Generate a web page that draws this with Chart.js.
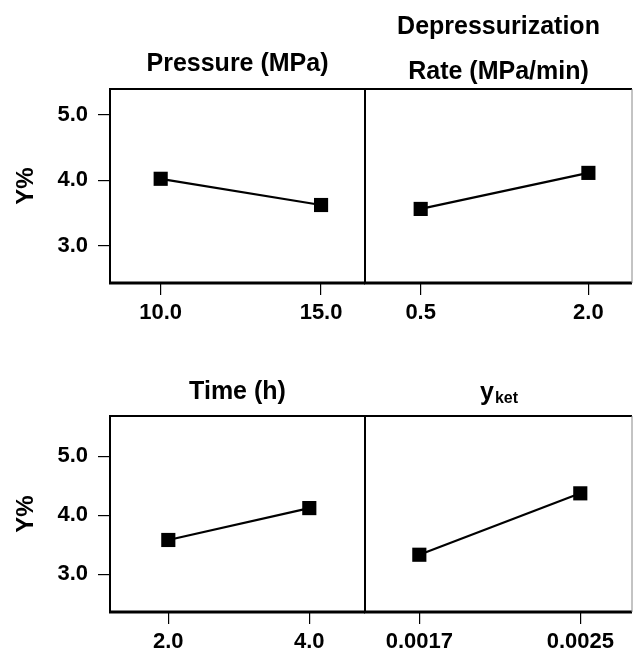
<!DOCTYPE html>
<html>
<head>
<meta charset="utf-8">
<script src="https://cdn.jsdelivr.net/npm/chart.js@4"></script>
<style>
  body { margin: 0; background: #fff; }
  #wrap { position: relative; width: 633px; height: 652px; overflow: hidden; }
  canvas { position: absolute; }
</style>
</head>
<body>
<div id="wrap">
  <canvas id="c-pressure" width="375" height="345" style="left:0;top:0"></canvas>
  <canvas id="c-rate" width="278" height="345" style="left:355px;top:0"></canvas>
  <canvas id="c-time" width="375" height="307" style="left:0;top:345px"></canvas>
  <canvas id="c-yket" width="278" height="307" style="left:355px;top:345px"></canvas>
</div>
<script>
// waarden
const pressureX = [10, 15];
const pressureLabels = ['10.0', '15.0'];
const pressureY = [4.02, 3.62];

const rateX = [0.5, 2.0];
const rateLabels = ['0.5', '2.0'];
const rateY = [3.56, 4.11];

const timeX = [2, 4];
const timeLabels = ['2.0', '4.0'];
const timeY = [3.58, 4.12];

const yketX = [0.0017, 0.0025];
const yketLabels = ['0.0017', '0.0025'];
const yketY = [3.33, 4.37];

const yTicks = [3, 4, 5];
const yTickLabels = ['3.0', '4.0', '5.0'];

const FONT = '"Liberation Sans", Arial, sans-serif';

// kader rond het plotgebied
const panelBox = {
    id: 'panelBox',
    afterDraw(chart, args, opts) {
        const { ctx, chartArea: { left, top, right, bottom } } = chart;
        ctx.save();
        ctx.strokeStyle = '#000';
        ctx.lineWidth = 2;
        ctx.beginPath();
        ctx.moveTo(left, bottom);
        ctx.lineTo(left, top);
        ctx.lineTo(right, top);
        ctx.stroke();
        ctx.lineWidth = 3;
        ctx.beginPath();
        ctx.moveTo(left - 1, bottom);
        ctx.lineTo(right, bottom);
        ctx.stroke();
        if (opts.rightEdge) {
            ctx.strokeStyle = '#888';
            ctx.lineWidth = 1;
            ctx.beginPath();
            ctx.moveTo(right, top);
            ctx.lineTo(right, bottom);
            ctx.stroke();
        }
        ctx.restore();
    }
};

// titels boven elk paneel
const panelTitle = {
    id: 'panelTitle',
    afterDraw(chart, args, opts) {
        const { ctx, chartArea: { left, top, right } } = chart;
        const cx = (left + right) / 2;
        ctx.save();
        ctx.fillStyle = '#000';
        ctx.textBaseline = 'middle';
        (opts.lines || []).forEach(line => {
            const y = top - line.dy;
            if (line.sub) {
                ctx.font = 'bold 25px ' + FONT;
                const w1 = ctx.measureText(line.text).width;
                ctx.font = 'bold 16px ' + FONT;
                const w2 = ctx.measureText(line.sub).width;
                const x0 = cx - (w1 + w2) / 2;
                ctx.textAlign = 'left';
                ctx.font = 'bold 25px ' + FONT;
                ctx.fillText(line.text, x0, y - 4);
                ctx.font = 'bold 16px ' + FONT;
                ctx.fillText(line.sub, x0 + w1 + 1, y + 2);
            } else {
                ctx.font = 'bold 25px ' + FONT;
                ctx.textAlign = 'center';
                ctx.fillText(line.text, cx, y);
            }
        });
        ctx.restore();
    }
};

function makePanel(id, xs, ys, xLabels, cfg) {
    const ctx = document.getElementById(id).getContext('2d');
    new Chart(ctx, {
        type: 'line',
        data: {
            datasets: [{
                data: xs.map((x, i) => ({ x: x, y: ys[i] })),
                borderColor: '#000',
                borderWidth: 2.2,
                pointStyle: 'rect',
                pointRadius: 10,
                pointBackgroundColor: '#000',
                pointBorderColor: '#000',
                pointBorderWidth: 0,
                tension: 0
            }]
        },
        options: {
            responsive: false,
            animation: false,
            events: [],
            layout: { padding: cfg.padding, autoPadding: false },
            plugins: {
                legend: { display: false },
                tooltip: { enabled: false },
                panelBox: { rightEdge: cfg.rightEdge },
                panelTitle: { lines: cfg.titles }
            },
            scales: {
                x: {
                    type: 'linear',
                    min: cfg.xMin,
                    max: cfg.xMax,
                    afterBuildTicks: scale => { scale.ticks = xs.map(v => ({ value: v })); },
                    afterFit: scale => { scale.height = cfg.xHeight; },
                    grid: { drawOnChartArea: false, drawTicks: true, tickLength: 12, color: '#000', lineWidth: 1.2 },
                    border: { display: false },
                    ticks: {
                        color: '#000',
                        padding: 5,
                        maxRotation: 0,
                        font: { family: FONT, size: 22, weight: 'bold' },
                        callback: (value, index) => xLabels[index]
                    }
                },
                y: {
                    display: cfg.showY,
                    min: cfg.yMin,
                    max: cfg.yMax,
                    afterBuildTicks: scale => { scale.ticks = yTicks.map(v => ({ value: v })); },
                    afterFit: scale => { scale.width = cfg.showY ? 110 : 0; },
                    grid: { drawOnChartArea: false, drawTicks: true, tickLength: 12, color: '#000', lineWidth: 1.2 },
                    border: { display: false },
                    title: {
                        display: true,
                        text: 'Y%',
                        color: '#000',
                        padding: { top: 12, bottom: 0 },
                        font: { family: FONT, size: 24, weight: 'bold' }
                    },
                    ticks: {
                        color: '#000',
                        padding: 10,
                        font: { family: FONT, size: 22, weight: 'bold' },
                        callback: (value, index) => yTickLabels[index]
                    }
                }
            }
        },
        plugins: [panelBox, panelTitle]
    });
}

makePanel('c-pressure', pressureX, pressureY, pressureLabels, {
    padding: { top: 89, right: 10, left: 0, bottom: 0 },
    xMin: 8.42, xMax: 16.37, yMin: 2.43, yMax: 5.39,
    xHeight: 62, showY: true, rightEdge: false,
    titles: [{ text: 'Pressure (MPa)', dy: 25 }]
});

makePanel('c-rate', rateX, rateY, rateLabels, {
    padding: { top: 89, right: 1, left: 10, bottom: 0 },
    xMin: 0.002, xMax: 2.39, yMin: 2.43, yMax: 5.39,
    xHeight: 62, showY: false, rightEdge: true,
    titles: [{ text: 'Depressurization', dy: 62 }, { text: 'Rate (MPa/min)', dy: 17 }]
});

makePanel('c-time', timeX, timeY, timeLabels, {
    padding: { top: 71, right: 10, left: 0, bottom: 0 },
    xMin: 1.173, xMax: 4.79, yMin: 2.36, yMax: 5.68,
    xHeight: 40, showY: true, rightEdge: false,
    titles: [{ text: 'Time (h)', dy: 24 }]
});

makePanel('c-yket', yketX, yketY, yketLabels, {
    padding: { top: 71, right: 1, left: 10, bottom: 0 },
    xMin: 0.00143, xMax: 0.002757, yMin: 2.36, yMax: 5.68,
    xHeight: 40, showY: false, rightEdge: true,
    titles: [{ text: 'y', sub: 'ket', dy: 19 }]
});
</script>
</body>
</html>
